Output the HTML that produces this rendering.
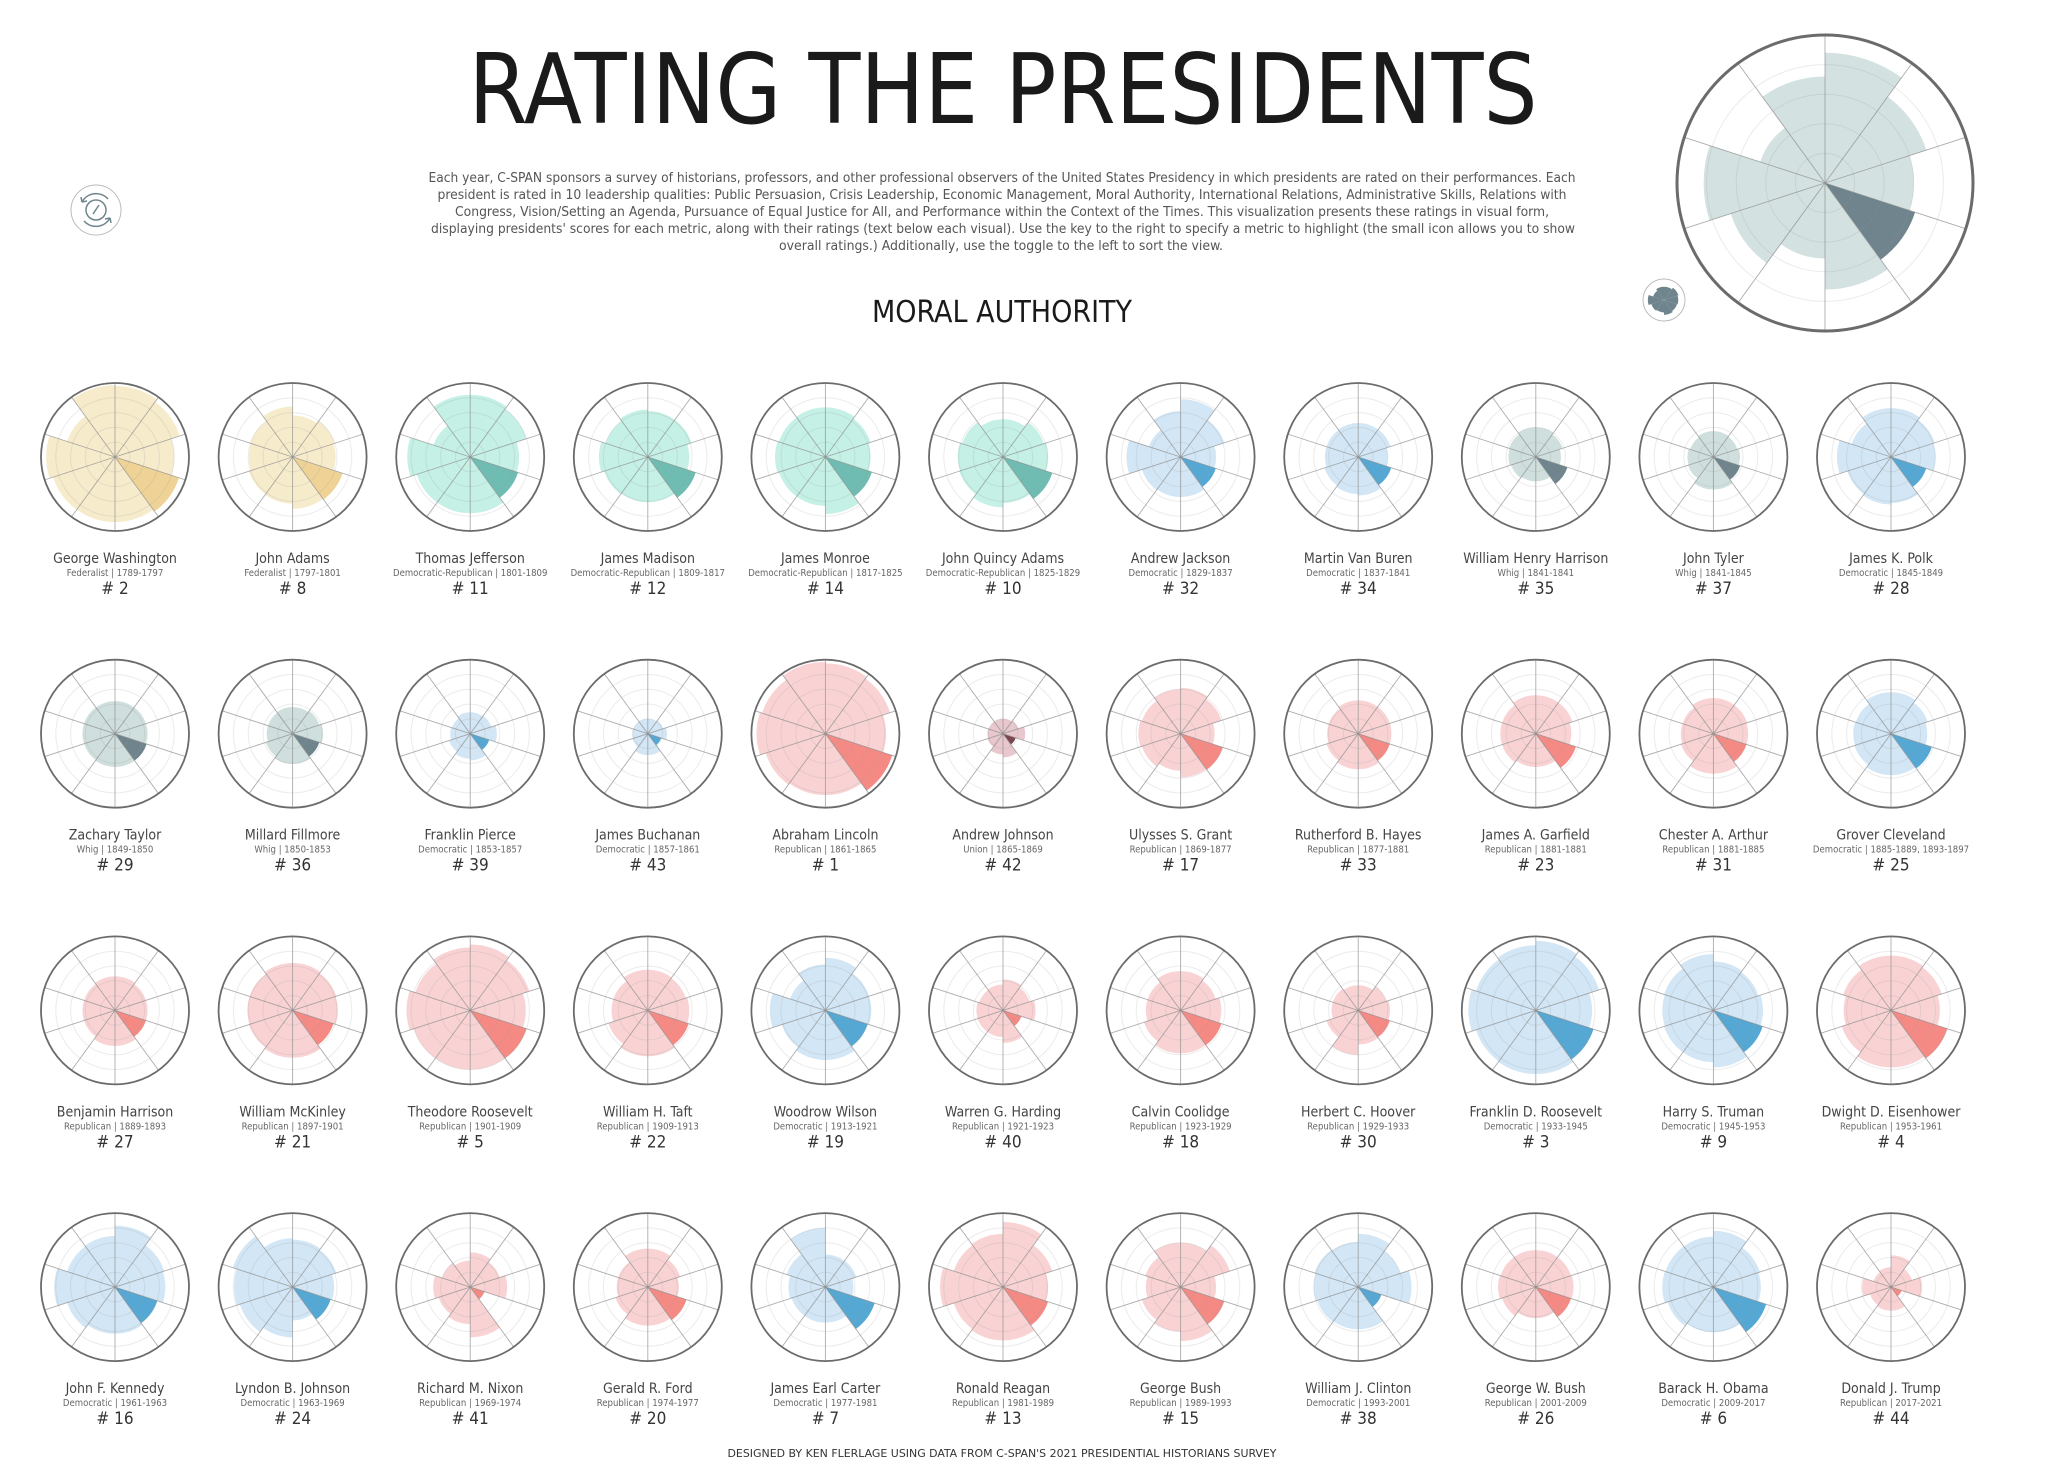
<!DOCTYPE html>
<html><head><meta charset="utf-8"><title>Rating the Presidents</title>
<style>
html,body{margin:0;padding:0;background:#fff;}
svg{display:block;}
text{font-family:"DejaVu Sans Condensed","DejaVu Sans","Liberation Sans",sans-serif;font-stretch:condensed;}
</style></head>
<body>
<svg id="chart" xmlns="http://www.w3.org/2000/svg" width="2048" height="1477" viewBox="0 0 2048 1477">
<rect width="2048" height="1477" fill="#fff"/>
<text x="1003" y="123" font-size="97" text-anchor="middle" textLength="1069" lengthAdjust="spacingAndGlyphs" fill="#1a1a1a">RATING THE PRESIDENTS</text>
<g font-size="13" fill="#555" text-anchor="middle">
<text x="1002" y="182" textLength="1147" lengthAdjust="spacingAndGlyphs">Each year, C-SPAN sponsors a survey of historians, professors, and other professional observers of the United States Presidency in which presidents are rated on their performances. Each</text>
<text x="1002" y="199" textLength="1129" lengthAdjust="spacingAndGlyphs">president is rated in 10 leadership qualities: Public Persuasion, Crisis Leadership, Economic Management, Moral Authority, International Relations, Administrative Skills, Relations with</text>
<text x="1002" y="216" textLength="1094" lengthAdjust="spacingAndGlyphs">Congress, Vision/Setting an Agenda, Pursuance of Equal Justice for All, and Performance within the Context of the Times. This visualization presents these ratings in visual form,</text>
<text x="1003" y="233" textLength="1144" lengthAdjust="spacingAndGlyphs">displaying presidents' scores for each metric, along with their ratings (text below each visual). Use the key to the right to specify a metric to highlight (the small icon allows you to show</text>
<text x="1001" y="250" textLength="444" lengthAdjust="spacingAndGlyphs">overall ratings.) Additionally, use the toggle to the left to sort the view.</text>
</g>
<text x="1002" y="322" font-size="30" text-anchor="middle" textLength="260" lengthAdjust="spacingAndGlyphs" fill="#1a1a1a">MORAL AUTHORITY</text>
<g transform="translate(96,210)">
<circle r="25" fill="#fff" stroke="#bbb" stroke-width="1"/>
<path d="M-14,-8 A16,16 0 0 1 12,-11" fill="none" stroke="#6f858d" stroke-width="1.5"/>
<path d="M14,8 A16,16 0 0 1 -12,11" fill="none" stroke="#6f858d" stroke-width="1.5"/>
<path d="M-14,-8 l-1,-5 M-14,-8 l5,-1" stroke="#6f858d" stroke-width="1.5"/>
<path d="M14,8 l1,5 M14,8 l-5,1" stroke="#6f858d" stroke-width="1.5"/>
<circle r="10" fill="none" stroke="#6f858d" stroke-width="1.5"/>
<path d="M-3,4 L3,-5" stroke="#6f858d" stroke-width="1.5"/>
</g>
<g id="keyg"></g>
<g id="iconG"></g>
<g id="grid"></g>
<text x="1002" y="1457" font-size="11" text-anchor="middle" textLength="549" lengthAdjust="spacingAndGlyphs" fill="#333">DESIGNED BY KEN FLERLAGE USING DATA FROM C-SPAN'S 2021 PRESIDENTIAL HISTORIANS SURVEY</text>
</svg>
<script>
const metrics = ["Public Persuasion","Crisis Leadership","Economic Management","Moral Authority","International Relations","Administrative Skills","Relations with Congress","Vision/Setting an Agenda","Pursued Equal Justice for All","Performance within Context of Times"];
const highlightIndex = 3;
const names = ["George Washington","John Adams","Thomas Jefferson","James Madison","James Monroe","John Quincy Adams","Andrew Jackson","Martin Van Buren","William Henry Harrison","John Tyler","James K. Polk",
"Zachary Taylor","Millard Fillmore","Franklin Pierce","James Buchanan","Abraham Lincoln","Andrew Johnson","Ulysses S. Grant","Rutherford B. Hayes","James A. Garfield","Chester A. Arthur","Grover Cleveland",
"Benjamin Harrison","William McKinley","Theodore Roosevelt","William H. Taft","Woodrow Wilson","Warren G. Harding","Calvin Coolidge","Herbert C. Hoover","Franklin D. Roosevelt","Harry S. Truman","Dwight D. Eisenhower",
"John F. Kennedy","Lyndon B. Johnson","Richard M. Nixon","Gerald R. Ford","James Earl Carter","Ronald Reagan","George Bush","William J. Clinton","George W. Bush","Barack H. Obama","Donald J. Trump"];
const parties = ["Federalist","Federalist","Democratic-Republican","Democratic-Republican","Democratic-Republican","Democratic-Republican","Democratic","Democratic","Whig","Whig","Democratic",
"Whig","Whig","Democratic","Democratic","Republican","Union","Republican","Republican","Republican","Republican","Democratic",
"Republican","Republican","Republican","Republican","Democratic","Republican","Republican","Republican","Democratic","Democratic","Republican",
"Democratic","Democratic","Republican","Republican","Democratic","Republican","Republican","Democratic","Republican","Democratic","Republican"];
const terms = ["1789-1797","1797-1801","1801-1809","1809-1817","1817-1825","1825-1829","1829-1837","1837-1841","1841-1841","1841-1845","1845-1849",
"1849-1850","1850-1853","1853-1857","1857-1861","1861-1865","1865-1869","1869-1877","1877-1881","1881-1881","1881-1885","1885-1889, 1893-1897",
"1889-1893","1897-1901","1901-1909","1909-1913","1913-1921","1921-1923","1923-1929","1929-1933","1933-1945","1945-1953","1953-1961",
"1961-1963","1963-1969","1969-1974","1974-1977","1977-1981","1981-1989","1989-1993","1993-2001","2001-2009","2009-2017","2017-2021"];
const ranks = [2,8,11,12,14,10,32,34,35,37,28,29,36,39,43,1,42,17,33,23,31,25,27,21,5,22,19,40,18,30,3,9,4,16,24,41,20,7,13,15,38,26,6,44];
const scores = [
[96,92,80,91,88,88,88,93,68,97],[56,60,58,71,70,63,62,59,60,68],[84,80,66,68,76,76,76,85,52,84],[62,62,56,68,61,61,62,66,60,64],[67,64,61,66,77,66,66,68,66,67],[51,58,61,70,62,68,62,61,58,51],
[78,62,48,50,54,54,55,73,45,62],[46,46,40,47,52,50,48,45,45,46],[40,38,34,45,33,33,35,37,38,40],[35,34,36,38,44,44,36,35,33,35],[66,62,60,50,62,64,62,73,56,66],
[44,44,44,45,45,45,44,44,44,44],[36,38,41,38,41,41,38,35,35,36],[29,30,36,27,36,34,30,27,26,29],[20,22,26,19,29,29,22,21,20,20],[95,92,82,95,83,83,85,93,90,97],[20,22,30,18,32,28,22,21,20,20],
[62,58,46,60,59,50,55,57,55,60],[45,45,45,45,48,48,45,42,42,45],[52,52,48,57,45,45,48,48,48,52],[48,48,47,47,54,54,46,44,44,48],[56,52,49,58,56,56,52,51,50,56],
[46,44,44,44,48,48,44,44,44,46],[64,62,61,58,64,64,62,61,61,64],[89,84,75,80,80,80,80,86,78,85],[55,54,56,58,62,62,56,49,49,55],[71,62,62,60,67,67,62,75,50,62],[42,38,44,26,44,36,36,36,34,35],
[53,50,55,58,58,58,52,47,47,53],[34,40,43,45,46,60,45,36,36,34],[94,90,76,82,86,86,85,91,85,88],[66,64,67,70,77,70,70,69,70,76],[74,72,66,80,77,77,70,64,68,74],
[83,70,68,60,63,63,68,82,68,69],[64,62,56,54,45,68,75,79,85,66],[47,42,50,20,68,50,45,50,40,36],[52,46,42,55,52,52,46,42,42,52],[44,44,38,70,48,48,48,50,55,80],[88,70,61,64,72,72,70,85,70,72],
[60,70,48,62,73,60,55,47,50,60],[72,60,72,33,57,57,58,60,62,61],[50,50,51,50,42,42,48,51,50,50],[76,66,64,75,61,61,65,69,68,68],[43,30,42,15,32,32,30,39,25,27]];
const keyScores = [88,72,60,64,72,51,67,82,46,72];
const iconScores = [70,80,75,72,78,65,70,85,60,70];

const partyColors = {
  "Federalist":["#f6ebcb","#efd396"],
  "Democratic-Republican":["#c4f0e5","#6fbcb2"],
  "Democratic":["#d2e6f5","#55a8d4"],
  "Whig":["#cfdfdd","#6f848d"],
  "Republican":["#f9d3d4","#f58a84"],
  "Union":["#e8c8ce","#7b474e"]
};
const NS = "http://www.w3.org/2000/svg";
function mk(tag, attrs, parent){
  const e = document.createElementNS(NS, tag);
  for (const k in attrs) e.setAttribute(k, attrs[k]);
  if (parent) parent.appendChild(e);
  return e;
}
function rScale(v, R){ return v/100*R; }
function pt(cx, cy, r, deg){ const a = deg*Math.PI/180; return [cx + r*Math.sin(a), cy - r*Math.cos(a)]; }
function wedge(cx, cy, r, a0, a1){
  const p0 = pt(cx,cy,r,a0), p1 = pt(cx,cy,r,a1);
  return "M"+cx+","+cy+" L"+p0[0].toFixed(2)+","+p0[1].toFixed(2)+" A"+r+","+r+" 0 0 1 "+p1[0].toFixed(2)+","+p1[1].toFixed(2)+" Z";
}
function radial(g, cx, cy, R, vals, light, dark, outerW){
  vals.forEach(function(v,i){
    const p = mk("path",{d:wedge(cx,cy,rScale(v,R),i*36,(i+1)*36),fill:(i===highlightIndex?dark:light)},g);
    
    
  });
  [0.2,0.4,0.6,0.8].forEach(function(f){
    mk("circle",{cx:cx,cy:cy,r:R*f,fill:"none",stroke:"#999","stroke-opacity":0.2,"stroke-width":1},g);
  });
  for (let i=0;i<10;i++){
    const q = pt(cx,cy,R,i*36);
    mk("line",{x1:cx,y1:cy,x2:q[0],y2:q[1],stroke:"#8a8a8a","stroke-opacity":0.7,"stroke-width":0.9},g);
  }
  mk("circle",{cx:cx,cy:cy,r:R,fill:"none",stroke:"#6b6b6b","stroke-width":outerW},g);
}
const grid = document.getElementById("grid");
const colX0 = 115, colDX = 177.6, rowY0 = 457, rowDY = 276.7, R = 74;
names.forEach(function(nm, idx){
  const col = idx % 11, row = Math.floor(idx/11);
  const cx = colX0 + col*colDX, cy = rowY0 + row*rowDY;
  const g = mk("g",{},grid);
  
  
  const c = partyColors[parties[idx]];
  radial(g, cx, cy, R, scores[idx], c[0], c[1], 1.8);
  const t1 = mk("text",{x:cx,y:cy+106,"font-size":14,"text-anchor":"middle",fill:"#444"},g);
  t1.textContent = nm;
  
  
  const t2 = mk("text",{x:cx,y:cy+119,"font-size":9.5,"text-anchor":"middle",fill:"#666"},g);
  t2.textContent = parties[idx] + " | " + terms[idx];
  
  
  const t3 = mk("text",{x:cx,y:cy+137,"font-size":17,"text-anchor":"middle",fill:"#333"},g);
  t3.textContent = "# " + ranks[idx];
  
  
});
radial(document.getElementById("keyg"), 1825, 183, 148, keyScores, "#d3e1e0", "#6f848d", 3);
const ig = document.getElementById("iconG");
mk("circle",{cx:1664,cy:300,r:21,fill:"#fff",stroke:"#bbb","stroke-width":1},ig);
iconScores.forEach(function(v,i){
  const p = mk("path",{d:wedge(1664,300,rScale(v,19),i*36,(i+1)*36),fill:"#6f848d"},ig);
  
  
});
</script>
</body></html>
